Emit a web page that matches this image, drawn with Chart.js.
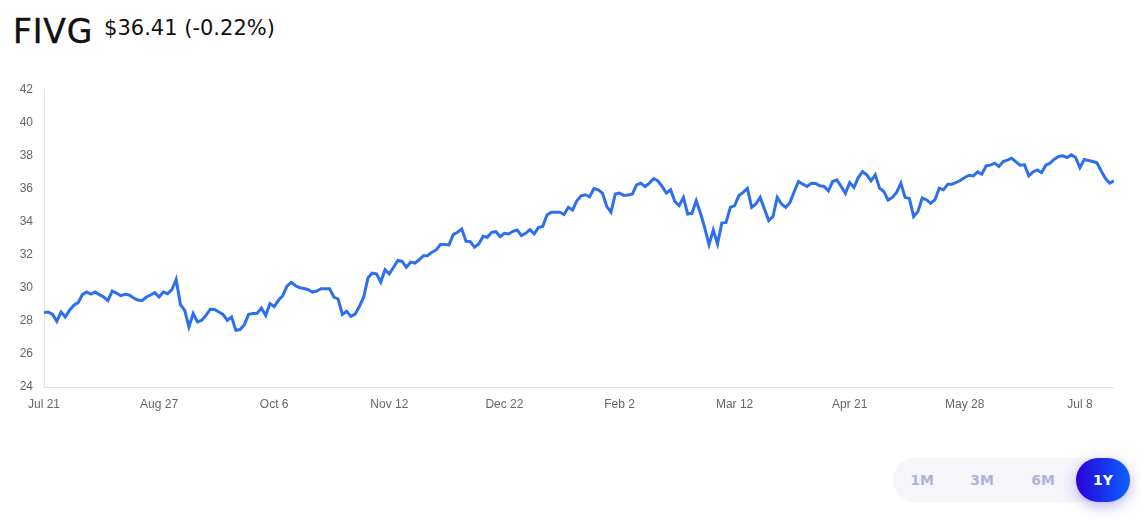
<!DOCTYPE html>
<html>
<head>
<meta charset="utf-8">
<title>FIVG</title>
<script src="https://cdn.jsdelivr.net/npm/chart.js@4"></script>
<style>
    body { margin: 0; background: #fff; width: 1145px; height: 520px; overflow: hidden; position: relative; font-family: "DejaVu Sans", sans-serif; }
    .header { position: absolute; left: 13px; top: 13px; display: flex; align-items: flex-start; }
    .symbol { font-size: 33px; color: #111; letter-spacing: 0.8px; line-height: 38px; -webkit-text-stroke: 0.4px #111; }
    .price { font-size: 21px; color: #111; margin-left: 11px; line-height: 30px; letter-spacing: 0px; }
    .chart-box { position: absolute; left: 0; top: 71px; width: 1114px; height: 344px; }
    .ranges { position: absolute; left: 893px; top: 458px; width: 237px; height: 44px; border-radius: 22px; background: #f5f5fa; }
    .ranges span { position: absolute; top: 0; height: 44px; line-height: 44px; width: 54px; text-align: center; font-size: 14px; font-weight: bold; color: #acb4d6; }
    .ranges .active { right: 0; border-radius: 22px; color: #fff; background: linear-gradient(90deg, #2a00d8, #0a62ff); box-shadow: 0 4px 14px rgba(60, 40, 230, 0.35); }
</style>
</head>
<body>
<div class="header"><span class="symbol">FIVG</span><span class="price">$36.41 (-0.22%)</span></div>
<div class="chart-box"><canvas id="price-chart"></canvas></div>
<div class="ranges">
    <span style="left: 2px;">1M</span>
    <span style="left: 62px;">3M</span>
    <span style="left: 123px;">6M</span>
    <span class="active">1Y</span>
</div>
<script>
// precos de fechamento (um por pregao)
const prices = [
    28.50, 28.53, 28.39, 27.97, 28.53, 28.23, 28.64, 28.94, 29.10, 29.58,
    29.74, 29.62, 29.74, 29.58, 29.44, 29.22, 29.80, 29.68, 29.52, 29.60,
    29.56, 29.38, 29.26, 29.22, 29.44, 29.56, 29.70, 29.44, 29.74, 29.64,
    29.88, 30.50, 28.98, 28.64, 27.63, 28.44, 27.93, 28.03, 28.33, 28.70,
    28.68, 28.53, 28.39, 28.03, 28.23, 27.43, 27.47, 27.77, 28.39, 28.44,
    28.46, 28.77, 28.33, 29.04, 28.86, 29.24, 29.52, 30.10, 30.32, 30.12,
    30.00, 29.95, 29.88, 29.74, 29.80, 29.94, 29.94, 29.94, 29.44, 29.32,
    28.38, 28.58, 28.27, 28.41, 28.88, 29.44, 30.60, 30.88, 30.84, 30.34,
    31.09, 30.84, 31.24, 31.65, 31.59, 31.24, 31.55, 31.49, 31.69, 31.93,
    31.95, 32.15, 32.29, 32.61, 32.61, 32.59, 33.21, 33.35, 33.55, 32.81,
    32.79, 32.45, 32.65, 33.11, 33.05, 33.35, 33.39, 33.09, 33.29, 33.25,
    33.41, 33.49, 33.15, 33.29, 33.51, 33.25, 33.65, 33.71, 34.40, 34.56,
    34.56, 34.56, 34.42, 34.86, 34.70, 35.26, 35.56, 35.62, 35.50, 36.00,
    35.92, 35.72, 34.92, 34.56, 35.66, 35.72, 35.58, 35.60, 35.66, 36.22,
    36.32, 36.12, 36.32, 36.60, 36.46, 36.12, 35.72, 35.92, 35.20, 34.96,
    35.46, 34.46, 34.50, 35.26, 34.50, 33.61, 32.61, 33.49, 32.65, 33.91,
    33.95, 34.86, 34.96, 35.56, 35.76, 36.00, 34.86, 35.06, 35.46, 34.76,
    34.06, 34.30, 35.46, 35.06, 34.86, 35.16, 35.82, 36.42, 36.26, 36.12,
    36.32, 36.30, 36.16, 36.12, 35.86, 36.42, 36.52, 36.12, 35.70, 36.36,
    36.06, 36.66, 37.02, 36.82, 36.46, 36.82, 36.02, 35.82, 35.30, 35.46,
    35.76, 36.32, 35.46, 35.40, 34.30, 34.60, 35.42, 35.32, 35.10, 35.32,
    36.02, 35.92, 36.26, 36.26, 36.36, 36.50, 36.66, 36.80, 36.76, 37.00,
    36.86, 37.37, 37.41, 37.53, 37.33, 37.63, 37.71, 37.83, 37.61, 37.41,
    37.43, 36.76, 37.00, 37.12, 36.96, 37.41, 37.53, 37.77, 37.93, 37.97,
    37.87, 38.03, 37.87, 37.26, 37.75, 37.69, 37.63, 37.55, 37.06, 36.60,
    36.32, 36.46
];

// rotulos do eixo x e o pregao em que cada um cai
const tickLabels = ['Jul 21', 'Aug 27', 'Oct 6', 'Nov 12', 'Dec 22', 'Feb 2', 'Mar 12', 'Apr 21', 'May 28', 'Jul 8'];
const tickIndex = [0, 27, 54, 81, 108, 135, 162, 189, 216, 243];

const yMin = 24;
const yMax = 42;
const yStep = 2;

document.addEventListener("DOMContentLoaded", () => {
    displayPriceChart();
});

function displayPriceChart() {
    const ctx = document.getElementById('price-chart').getContext('2d');
    const points = prices.map((p, i) => ({ x: i, y: p }));

    Chart.defaults.font.family = "'Liberation Sans', Arial, sans-serif";
    Chart.defaults.font.size = 12;
    Chart.defaults.color = '#666';

    new Chart(ctx, {
        type: 'line',
        data: {
            datasets: [{
                data: points,
                borderColor: '#2d6fec',
                borderWidth: 3,
                pointRadius: 0,
                tension: 0,
                fill: false
            }]
        },
        options: {
            responsive: true,
            maintainAspectRatio: false,
            animation: false,
            layout: { padding: { top: 0, right: 0 } },
            scales: {
                x: {
                    type: 'linear',
                    min: 0,
                    max: prices.length - 1,
                    grid: { display: false, drawTicks: false },
                    border: { display: true, color: '#e3e3e3', width: 1 },
                    afterBuildTicks: (scale) => {
                        scale.ticks = tickIndex.map(v => ({ value: v }));
                    },
                    afterFit: (scale) => { scale.height = 28; },
                    ticks: {
                        autoSkip: false,
                        maxRotation: 0,
                        padding: 10,
                        callback: (value) => tickLabels[tickIndex.indexOf(value)]
                    }
                },
                y: {
                    min: yMin,
                    max: yMax,
                    grid: { display: false, drawTicks: false },
                    border: { display: true, color: '#e3e3e3', width: 1 },
                    afterFit: (scale) => { scale.width = 44; },
                    ticks: { stepSize: yStep, padding: 11 }
                }
            },
            plugins: {
                legend: { display: false },
                tooltip: { enabled: false }
            }
        }
    });
}
</script>
</body>
</html>
